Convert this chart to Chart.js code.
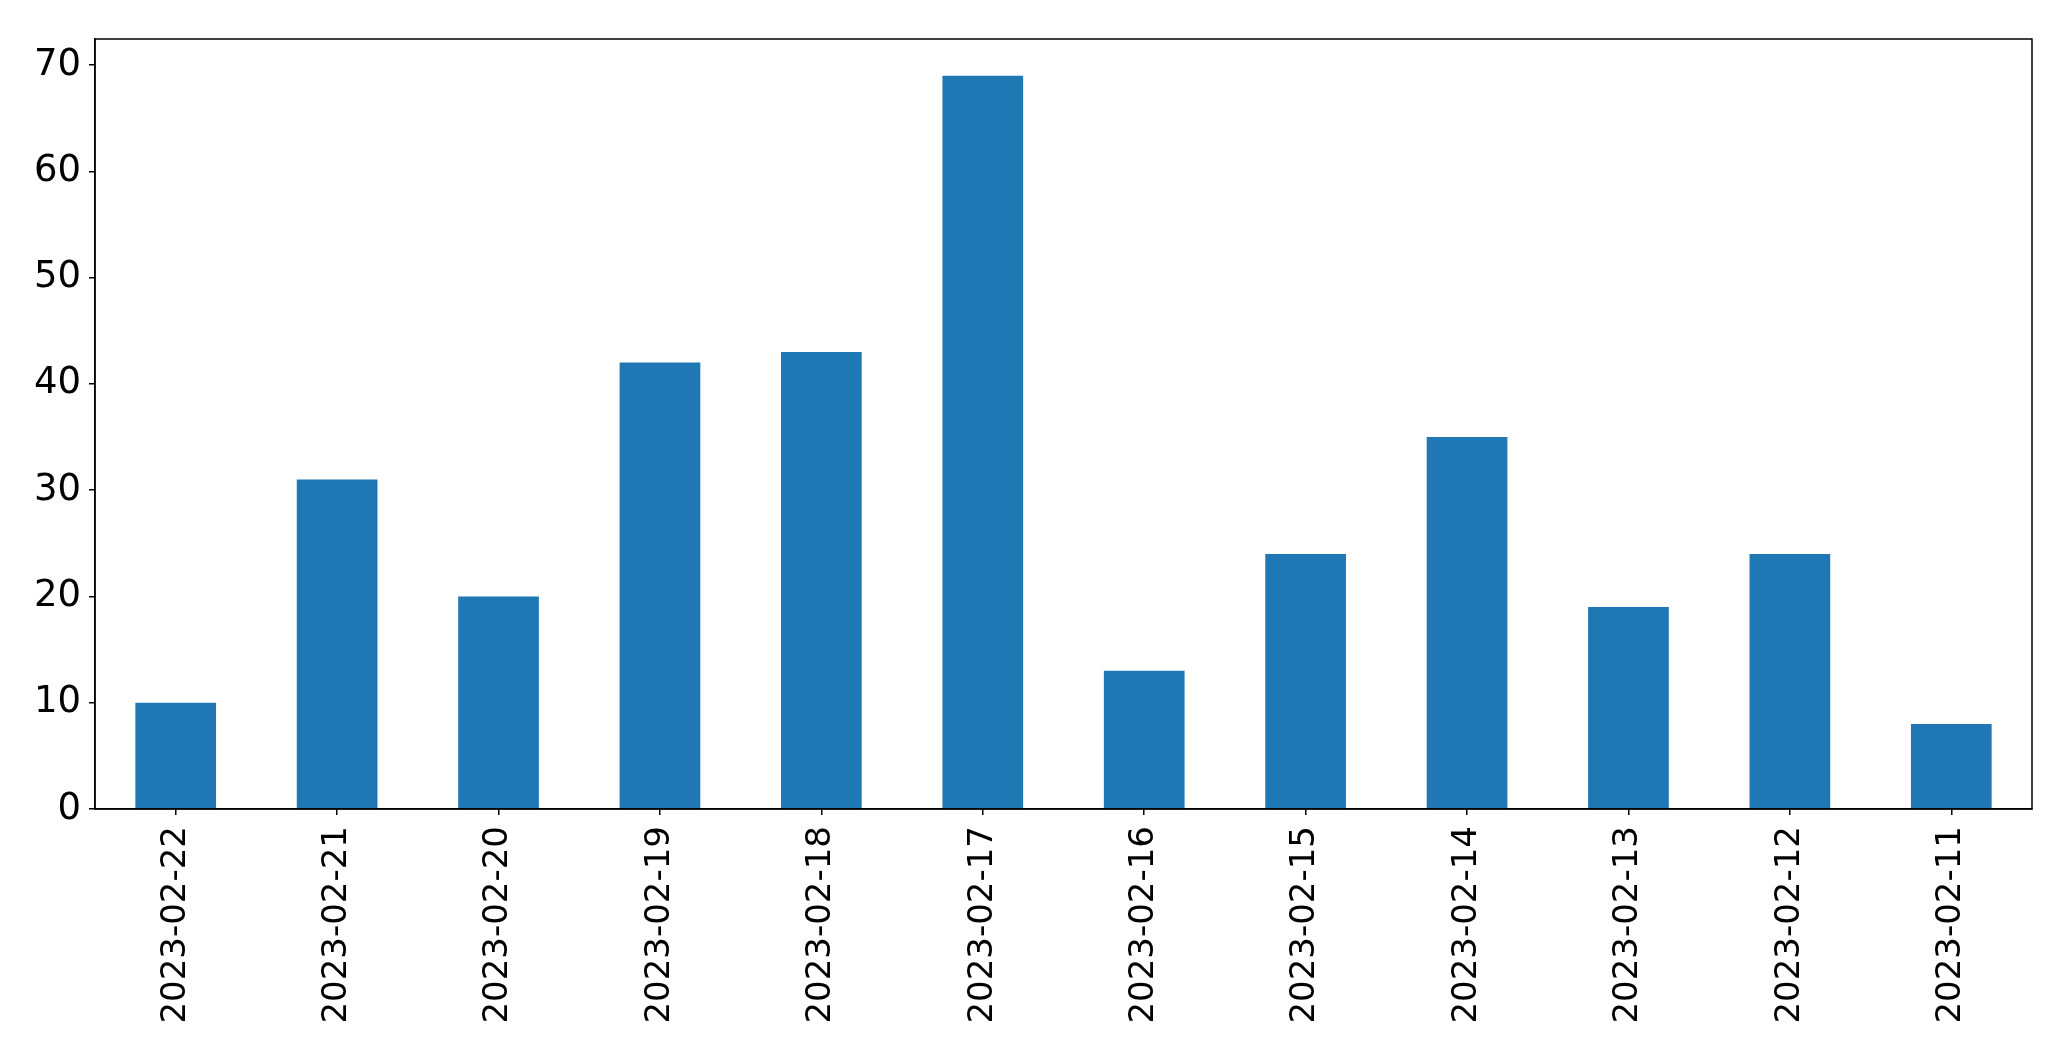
<!DOCTYPE html>
<html>
<head>
<meta charset="utf-8">
<script src="https://cdn.jsdelivr.net/npm/chart.js@4"></script>
<style>
  html, body { margin: 0; padding: 0; background: #fff; }
  #wrap { width: 2071px; height: 1061px; }
</style>
</head>
<body>
<div id="wrap"><canvas id="barchart"></canvas></div>
<script>
const dates = [
  '2023-02-22', '2023-02-21', '2023-02-20', '2023-02-19',
  '2023-02-18', '2023-02-17', '2023-02-16', '2023-02-15',
  '2023-02-14', '2023-02-13', '2023-02-12', '2023-02-11'
];
const counts = [10, 31, 20, 42, 43, 69, 13, 24, 35, 19, 24, 8];
const yTicks = [0, 10, 20, 30, 40, 50, 60, 70];

// box round the plot area, like matplotlib spines
const frame = {
  id: 'frame',
  afterDraw(chart) {
    const a = chart.chartArea;
    const ctx = chart.ctx;
    ctx.save();
    ctx.strokeStyle = '#000';
    ctx.lineWidth = 1.5;
    ctx.strokeRect(a.left, a.top, a.right - a.left, a.bottom - a.top);
    ctx.restore();
  }
};

new Chart(document.getElementById('barchart'), {
  type: 'bar',
  data: {
    labels: dates,
    datasets: [{
      data: counts,
      backgroundColor: '#1f77b4',
      barPercentage: 0.5,
      categoryPercentage: 1.0
    }]
  },
  options: {
    responsive: true,
    maintainAspectRatio: false,
    animation: false,
    devicePixelRatio: 1,
    layout: { padding: { top: 39, right: 39, left: 0, bottom: 0 } },
    plugins: { legend: { display: false }, tooltip: { enabled: false } },
    scales: {
      x: {
        offset: true,
        grid: { offset: false, drawOnChartArea: false, drawTicks: true, tickLength: 6, color: '#000', lineWidth: 1.5 },
        border: { display: true, color: '#000', width: 1.5 },
        ticks: { font: { family: 'DejaVu Sans', size: 34 }, color: '#000', maxRotation: 90, minRotation: 90, padding: 11, autoSkip: false },
        afterFit(scale) { scale.height = 252; }
      },
      y: {
        min: 0,
        max: 72.45,
        afterBuildTicks(scale) { scale.ticks = yTicks.map(v => ({ value: v })); },
        grid: { drawOnChartArea: false, drawTicks: true, tickLength: 6, color: '#000', lineWidth: 1.5 },
        border: { display: true, color: '#000', width: 1.5 },
        ticks: { font: { family: 'DejaVu Sans', size: 37 }, color: '#000', padding: 8 },
        afterFit(scale) { scale.width = 95; }
      }
    }
  },
  plugins: [frame]
});
</script>
</body>
</html>
